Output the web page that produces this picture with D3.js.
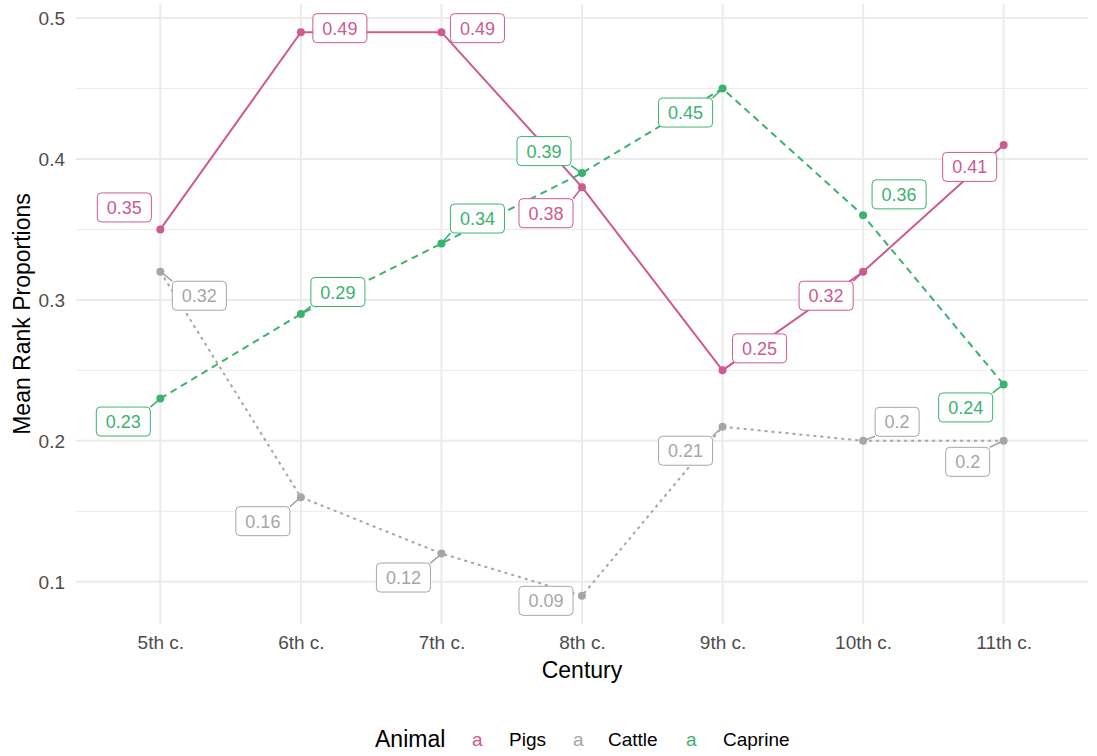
<!DOCTYPE html>
<html><head><meta charset="utf-8">
<script src="https://cdn.jsdelivr.net/npm/d3@7"></script>
<style>body{margin:0;background:#fff}svg{display:block;font-family:"Liberation Sans",Arial,sans-serif}</style>
</head><body><svg id="c" width="1097" height="756"></svg>
<script>
const centuries = ["5th c.","6th c.","7th c.","8th c.","9th c.","10th c.","11th c."];
const pigs    = [0.35,0.49,0.49,0.38,0.25,0.32,0.41];
const cattle  = [0.32,0.16,0.12,0.09,0.21,0.20,0.20];
const caprine = [0.23,0.29,0.34,0.39,0.45,0.36,0.24];
const seriesNames = ["Pigs","Cattle","Caprine"];
const yTicks = [0.1,0.2,0.3,0.4,0.5];
const yMinor = [0.15,0.25,0.35,0.45];
// label nudges (pixels) mimicking repelled label placement
const pigsLab    = [[-36,-22],[39,-4],[36,-4],[-36,26],[37,-22],[-37,24],[-34,22]];
const cattleLab  = [[39,24],[-38,24],[-38,24],[-36,5],[-37,24],[34,-19],[-36,21]];
const caprineLab = [[-37,23],[37,-22],[36,-25],[-38,-22],[-37,24],[36,-21],[-38,23]];

const colors = {Pigs:"#CD5A91", Cattle:"#A6A6A6", Caprine:"#3BB26F"};
const dashes = {Pigs:null, Cattle:"3,4", Caprine:"7,5"};
const series = [
  {name:"Pigs", values:pigs, lab:pigsLab},
  {name:"Cattle", values:cattle, lab:cattleLab},
  {name:"Caprine", values:caprine, lab:caprineLab}
];

const svg = d3.select("#c");
const L=76, R=1088, T=4, B=624;
const x = d3.scalePoint().domain(centuries).range([L,R]).padding(0.6);
const y = d3.scaleLinear().domain([0.07,0.51]).range([B,T]);

const g = svg.append("g");
g.selectAll(".mn").data(yMinor).join("line").attr("x1",L).attr("x2",R)
  .attr("y1",d=>y(d)).attr("y2",d=>y(d)).attr("stroke","#EBEBEB").attr("stroke-width",1);
g.selectAll(".mj").data(yTicks).join("line").attr("x1",L).attr("x2",R)
  .attr("y1",d=>y(d)).attr("y2",d=>y(d)).attr("stroke","#EBEBEB").attr("stroke-width",2);
g.selectAll(".vx").data(centuries).join("line").attr("y1",T).attr("y2",B)
  .attr("x1",d=>x(d)).attr("x2",d=>x(d)).attr("stroke","#EBEBEB").attr("stroke-width",2);

const xa = svg.append("g").attr("transform",`translate(0,${B})`)
  .call(d3.axisBottom(x).tickSize(0).tickPadding(0));
xa.attr("font-size",19).attr("font-family","Liberation Sans, Arial");
xa.select(".domain").remove();
xa.selectAll("text").attr("fill","#4D4D4D").attr("dy",null).attr("y",25);
const ya = svg.append("g").attr("transform",`translate(${L},0)`)
  .call(d3.axisLeft(y).tickValues(yTicks).tickFormat(d3.format(".1f")).tickSize(0).tickPadding(11));
ya.attr("font-size",19).attr("font-family","Liberation Sans, Arial");
ya.select(".domain").remove();
ya.selectAll("text").attr("fill","#4D4D4D").attr("dy","0.35em");

svg.append("text").attr("x",(L+R)/2).attr("y",678).attr("text-anchor","middle")
  .attr("font-size",23).attr("fill","#000").text("Century");
svg.append("text").attr("transform",`translate(30,${(T+B)/2}) rotate(-90)`).attr("text-anchor","middle")
  .attr("font-size",23).attr("fill","#000").text("Mean Rank Proportions");

const line = d3.line().x((d,i)=>x(centuries[i])).y(d=>y(d));
series.forEach(s=>{
  g.append("path").datum(s.values).attr("d",line).attr("fill","none")
   .attr("stroke",colors[s.name]).attr("stroke-width",2)
   .attr("stroke-dasharray",dashes[s.name]);
  g.selectAll(null).data(s.values).join("circle")
   .attr("cx",(d,i)=>x(centuries[i])).attr("cy",d=>y(d)).attr("r",4).attr("fill",colors[s.name]);
});

const fmt = d=>String(+d.toFixed(2));
const labG = svg.append("g");
const boxes=[];
series.forEach(s=>{
  s.values.forEach((v,i)=>{
    const px=x(centuries[i]), py=y(v);
    boxes.push({s,px,py,cx:px+s.lab[i][0],cy:py+s.lab[i][1],t:fmt(v)});
  });
});
const tmp = svg.append("text").attr("font-size",18);
boxes.forEach(b=>{ tmp.text(b.t); b.w=tmp.node().getComputedTextLength()+19; b.h=29; });
tmp.remove();
boxes.forEach(b=>{
  const x0=b.cx-b.w/2,x1=b.cx+b.w/2,y0=b.cy-b.h/2,y1=b.cy+b.h/2;
  const nx=Math.max(x0,Math.min(b.px,x1)), ny=Math.max(y0,Math.min(b.py,y1));
  if(Math.hypot(nx-b.px,ny-b.py)>12){
    labG.append("line").attr("x1",b.px).attr("y1",b.py).attr("x2",nx).attr("y2",ny)
      .attr("stroke",colors[b.s.name]).attr("stroke-width",1.6);
  }
});
boxes.forEach(b=>{
  labG.append("rect").attr("x",b.cx-b.w/2).attr("y",b.cy-b.h/2).attr("width",b.w).attr("height",b.h)
    .attr("rx",4).attr("fill","#fff").attr("stroke",colors[b.s.name]).attr("stroke-width",1);
  labG.append("text").attr("x",b.cx).attr("y",b.cy+6.5).attr("text-anchor","middle")
    .attr("font-size",18).attr("fill",colors[b.s.name]).text(b.t);
});

const lg = svg.append("g");
lg.append("text").attr("x",375).attr("y",747).attr("font-size",23).attr("fill","#000").text("Animal");
const keyX=[472,573,686], labX=[509,608,723];
seriesNames.forEach((n,i)=>{
  lg.append("text").attr("x",keyX[i]).attr("y",746).attr("font-size",19).attr("fill",colors[n]).text("a");
  lg.append("text").attr("x",labX[i]).attr("y",746).attr("font-size",19).attr("fill","#000").text(n);
});
</script></body></html>
